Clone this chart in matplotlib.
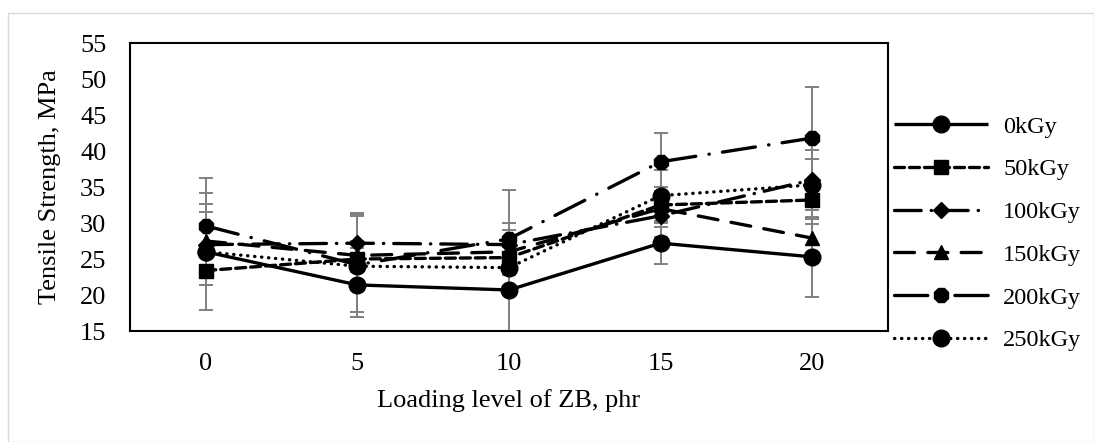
import numpy as np
import matplotlib
matplotlib.use("Agg")
import matplotlib.pyplot as plt
from matplotlib.patches import Rectangle

plt.rcParams['font.family'] = ['Liberation Serif', 'DejaVu Serif']

loading = ['0', '5', '10', '15', '20']
doses = ['0kGy', '50kGy', '100kGy', '150kGy', '200kGy', '250kGy']

ts_0 = [26.0, 21.4, 20.7, 27.2, 25.3]
ts_50 = [23.4, 25.0, 25.2, 32.5, 33.2]
ts_100 = [27.0, 27.2, 27.0, 31.0, 36.0]
ts_150 = [27.5, 25.5, 26.0, 32.0, 27.9]
ts_200 = [29.6, 24.2, 27.8, 38.5, 41.8]
ts_250 = [26.0, 24.0, 23.8, 33.8, 35.3]

err_0 = [8.1, 3.8, 5.9, 2.9, 5.6]
err_50 = [2.0, 1.5, 2.0, 2.5, 1.4]
err_100 = [5.6, 4.0, 3.0, 3.0, 2.9]
err_150 = [4.0, 2.0, 3.0, 2.5, 2.0]
err_200 = [6.6, 7.2, 6.8, 4.0, 7.1]
err_250 = [3.0, 7.0, 1.0, 3.5, 4.8]

series = [ts_0, ts_50, ts_100, ts_150, ts_200, ts_250]
errors = [err_0, err_50, err_100, err_150, err_200, err_250]
markers = ['o', 's', 'D', '^', '8', 'o']
msizes = [12, 10.5, 8.5, 10.5, 11, 12]
styles = ['-', (0, (3, 1.5)), (0, (8, 3, 0.1, 3)), (0, (6, 4)), (0, (10, 4, 0.1, 4)), (0, (0.1, 2))]

fig = plt.figure(figsize=(10.94, 4.42), dpi=100)
fig.patches.append(Rectangle((8 / 1094, 0), 1 - 8 / 1094, 1 - 13 / 442, transform=fig.transFigure,
                             fill=False, edgecolor='#d9d9d9', lw=1.0))
ax = fig.add_axes([0.1188, 0.2511, 0.6929, 0.6516])

x = np.arange(len(loading))
for vals, errs in zip(series, errors):
    ax.errorbar(x, vals, yerr=errs, fmt='none', ecolor='#808080', elinewidth=1.4,
                capsize=5, capthick=1.4, zorder=2)

for vals, lab, m, ms, ls in zip(series, doses, markers, msizes, styles):
    ax.plot(x, vals, linestyle=ls, color='black', lw=2.4, marker=m, markersize=ms,
            markerfacecolor='black', markeredgecolor='black', label=lab, zorder=3,
            dash_capstyle='round', solid_capstyle='butt')

ax.set_xlim(-0.5, 4.5)
ax.set_ylim(15, 55)
ax.set_yticks(np.arange(15, 56, 5))
ax.set_xticks(x)
ax.set_xticklabels(loading)
ax.tick_params(axis='both', length=0, labelsize=19)
ax.tick_params(axis='x', pad=16)
ax.tick_params(axis='y', pad=17)
for s in ax.spines.values():
    s.set_linewidth(1.5)

ax.set_xlabel('Loading level of ZB, phr', fontsize=19, labelpad=10)
ax.set_ylabel('Tensile Strength, MPa', fontsize=19, labelpad=14)

fig.legend(loc='upper left', bbox_to_anchor=(0.808, 0.76), frameon=False, fontsize=17.5,
           handlelength=3.9, labelspacing=0.85, handletextpad=0.6, borderaxespad=0)

fig.savefig('out.png', dpi=100)
